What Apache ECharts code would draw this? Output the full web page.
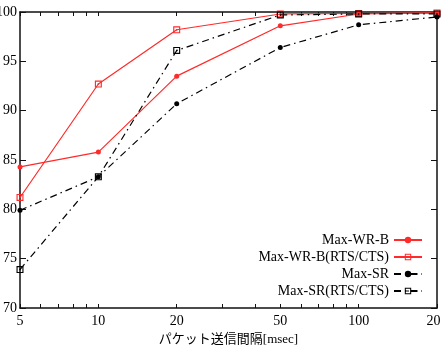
<!DOCTYPE html>
<html>
<head>
<meta charset="utf-8">
<script src="https://cdn.jsdelivr.net/npm/echarts@6/dist/echarts.min.js"></script>
<style>
  html, body { margin: 0; padding: 0; background: #fff; }
  #main { width: 441px; height: 350px; }
</style>
</head>
<body>
<div id="main"></div>
<script>
// packet interval [msec]
const intervals = [5, 10, 20, 50, 100, 200];
const maxWrB = [84.3, 85.8, 93.5, 98.6, 99.8, 99.9];
const maxWrBRts = [81.2, 92.7, 98.2, 99.8, 99.85, 99.9];
const maxSr = [79.9, 83.3, 90.7, 96.4, 98.7, 99.5];
const maxSrRts = [73.9, 83.3, 96.1, 99.7, 99.8, 99.8];

const xLabels = [5, 10, 20, 50, 100, 200];
const xTicks = [5, 6, 7, 8, 9, 10, 20, 30, 40, 50, 60, 70, 80, 90, 100, 200];

const serif = '"Liberation Serif", "DejaVu Serif", serif';
const red = '#ff2a2a';
const dashDot = [7, 4, 1.5, 4];
// open square with a small dot in the middle
const boxDot = 'path://M0,0H10V10H0Z M1.6,1.6V8.4H8.4V1.6Z M4,4H6V6H4Z';

const pairs = (ys) => intervals.map((x, i) => [x, ys[i]]);

const chart = echarts.init(document.getElementById('main'));

const xBase = {
  type: 'log',
  logBase: 10,
  min: 5,
  max: 200,
  splitLine: { show: false },
  axisLine: { show: true, lineStyle: { color: '#111', width: 1.5 } },
  axisTick: { inside: true, length: 4, customValues: xTicks, lineStyle: { color: '#111' } }
};
const yBase = {
  type: 'value',
  min: 70,
  max: 100,
  interval: 5,
  splitLine: { show: false },
  axisLine: { show: true, lineStyle: { color: '#111', width: 1.5 } },
  axisTick: { inside: true, length: 6, lineStyle: { color: '#111' } }
};

const option = {
  animation: false,
  grid: { left: 20, right: 4, top: 12, bottom: 42, containLabel: false, outerBoundsMode: 'none' },
  xAxis: [
    Object.assign({}, xBase, {
      position: 'bottom',
      name: 'パケット送信間隔[msec]',
      nameLocation: 'middle',
      nameGap: 23,
      nameTextStyle: { color: '#000', fontSize: 13, fontFamily: '"Liberation Serif", "Noto Sans CJK JP", serif' },
      axisLabel: { customValues: xLabels, color: '#000', fontSize: 14, fontFamily: serif, margin: 6, hideOverlap: false }
    }),
    Object.assign({}, xBase, {
      position: 'top',
      axisLabel: { show: false }
    })
  ],
  yAxis: [
    Object.assign({}, yBase, {
      position: 'left',
      axisLabel: { color: '#000', fontSize: 14, fontFamily: serif, margin: 3 }
    }),
    Object.assign({}, yBase, {
      position: 'right',
      axisLabel: { show: false }
    })
  ],
  legend: {
    orient: 'vertical',
    align: 'right',
    right: 18,
    bottom: 52,
    padding: 0,
    itemGap: 3,
    itemWidth: 28,
    itemHeight: 8,
    textStyle: { color: '#000', fontSize: 14, fontFamily: serif },
    data: ['Max-WR-B', 'Max-WR-B(RTS/CTS)', 'Max-SR', 'Max-SR(RTS/CTS)']
  },
  series: [
    {
      name: 'Max-WR-B',
      type: 'line',
      data: pairs(maxWrB),
      symbol: 'circle',
      symbolSize: 5,
      lineStyle: { color: red, width: 1.2 },
      itemStyle: { color: red }
    },
    {
      name: 'Max-WR-B(RTS/CTS)',
      type: 'line',
      data: pairs(maxWrBRts),
      symbol: boxDot,
      symbolSize: 7,
      lineStyle: { color: red, width: 1.2 },
      itemStyle: { color: red }
    },
    {
      name: 'Max-SR',
      type: 'line',
      data: pairs(maxSr),
      symbol: 'circle',
      symbolSize: 5,
      lineStyle: { color: '#000', width: 1.2, type: dashDot },
      itemStyle: { color: '#000' }
    },
    {
      name: 'Max-SR(RTS/CTS)',
      type: 'line',
      data: pairs(maxSrRts),
      symbol: boxDot,
      symbolSize: 7,
      lineStyle: { color: '#000', width: 1.2, type: dashDot },
      itemStyle: { color: '#000' }
    }
  ]
};

chart.setOption(option);
</script>
</body>
</html>
